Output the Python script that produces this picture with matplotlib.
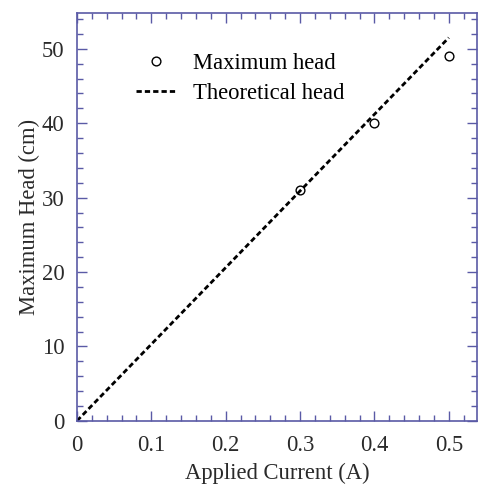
import numpy as np
import matplotlib.pyplot as plt
from matplotlib.ticker import MultipleLocator

plt.rcParams['font.family'] = 'serif'
plt.rcParams['font.serif'] = ['Liberation Serif', 'Times New Roman', 'DejaVu Serif']

# measured points
current = [0.3, 0.4, 0.5]
max_head = [31, 40, 49]

# theoretical line
theo_current = [0.0, 0.5]
theo_head = [0.0, 51.5]

frame = '#5a5aa6'
txt = '#2a2a2a'
fs = 16.3

fig = plt.figure(figsize=(4.78, 4.86), dpi=100)
ax = fig.add_axes([0.161, 0.134, 0.837, 0.839])

ax.plot(current, max_head, 'o', markersize=6.3, markerfacecolor='none',
        markeredgecolor='black', markeredgewidth=1.0, label='Maximum head')
ax.plot(theo_current, theo_head, '--', color='black', linewidth=2.0,
        dashes=(1.9, 1.1), label='Theoretical head')

ax.set_xlim(0, 0.538)
ax.set_ylim(0, 54.8)
ax.xaxis.set_minor_locator(MultipleLocator(0.02))
ax.yaxis.set_major_locator(MultipleLocator(10))
ax.yaxis.set_minor_locator(MultipleLocator(2))
ax.set_xticks([0, 0.1, 0.2, 0.3, 0.4, 0.5])
ax.set_xticklabels(['0', '0.1', '0.2', '0.3', '0.4', '0.5'])

for s in ax.spines.values():
    s.set_color(frame)
    s.set_linewidth(1.2)
ax.tick_params(which='both', direction='in', top=True, right=True,
               color=frame, labelsize=fs, labelcolor=txt)
ax.tick_params(which='major', length=7, width=1.0, pad=10)
ax.tick_params(axis='y', which='major', pad=9)
ax.tick_params(which='minor', length=4, width=1.0)

ax.set_xlabel('Applied Current (A)', fontsize=fs, color=txt, labelpad=5)
ax.set_ylabel('Maximum Head (cm)', fontsize=fs, color=txt, labelpad=1)

ax.legend(loc='upper left', bbox_to_anchor=(0.097, 0.953), frameon=False,
          fontsize=fs, handlelength=1.75, handletextpad=0.75, labelspacing=0.4)

plt.savefig('out.png', dpi=100)
